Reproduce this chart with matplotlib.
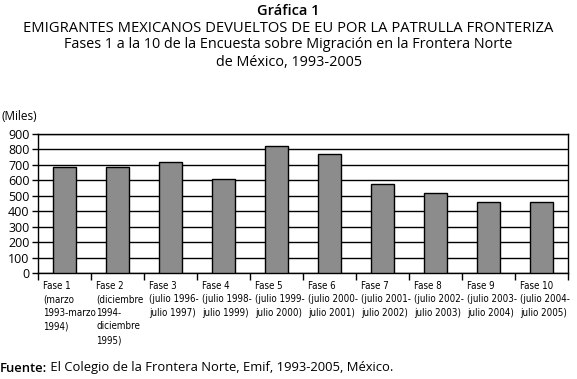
import numpy as np
import matplotlib.pyplot as plt
import matplotlib.transforms as mtransforms

# Data
fases = ['Fase 1\n(marzo\n1993-marzo\n1994)',
         'Fase 2\n(diciembre\n1994-\ndiciembre\n1995)',
         'Fase 3\n(julio 1996-\njulio 1997)',
         'Fase 4\n(julio 1998-\njulio 1999)',
         'Fase 5\n(julio 1999-\njulio 2000)',
         'Fase 6\n(julio 2000-\njulio 2001)',
         'Fase 7\n(julio 2001-\njulio 2002)',
         'Fase 8\n(julio 2002-\njulio 2003)',
         'Fase 9\n(julio 2003-\njulio 2004)',
         'Fase 10\n(julio 2004-\njulio 2005)']
emigrantes = [684, 684, 717, 607, 820, 768, 574, 516, 458, 458]
yticks = list(range(0, 1000, 100))

plt.rcParams['font.family'] = ['Open Sans', 'DejaVu Sans']

fig = plt.figure(figsize=(5.77, 3.79), dpi=100)
ax = fig.add_axes([38 / 577, 1 - 273 / 379, 530 / 577, 139 / 379])

x = np.arange(len(emigrantes))
ax.bar(x, emigrantes, width=0.43, color='#8c8c8c', edgecolor='black', linewidth=1, zorder=3)

ax.set_xlim(-0.5, len(emigrantes) - 0.5)
ax.set_ylim(0, 900)
ax.set_yticks(yticks)
ax.set_yticklabels([str(v) for v in yticks], fontsize=9)
ax.yaxis.grid(True, color='black', linewidth=1)
ax.set_axisbelow(True)
ax.tick_params(axis='y', length=4, width=1, pad=2)

# ticks at category boundaries
ax.set_xticks(np.arange(-0.5, len(emigrantes) + 0.5, 1))
ax.set_xticklabels([])
ax.tick_params(axis='x', length=5, width=1, direction='out')
for s in ax.spines.values():
    s.set_color('black')
    s.set_linewidth(1)

trans = mtransforms.blended_transform_factory(ax.transData, ax.transAxes)
for i, lab in enumerate(fases):
    ax.text(i - 0.4, -0.055, lab, transform=trans, ha='left', va='top',
            fontsize=7.0, family='DejaVu Sans', stretch='condensed',
            linespacing=1.45)

fig.text(0.5, 1 - 11 / 379, 'Gráfica 1', ha='center', va='center', fontsize=10.5, weight='semibold')
fig.text(0.5, 1 - 28 / 379, 'EMIGRANTES MEXICANOS DEVUELTOS DE EU POR LA PATRULLA FRONTERIZA',
         ha='center', va='center', fontsize=10.6)
fig.text(0.5, 1 - 45 / 379, 'Fases 1 a la 10 de la Encuesta sobre Migración en la Frontera Norte',
         ha='center', va='center', fontsize=10.4)
fig.text(0.5, 1 - 62 / 379, 'de México, 1993-2005', ha='center', va='center', fontsize=10.4)
fig.text(2 / 577, 1 - 117 / 379, '(Miles)', ha='left', va='center', fontsize=8.5)
t1 = fig.text(0, 1 - 368 / 379, 'Fuente:', ha='left', va='center', fontsize=9.4, weight='semibold')
ax.annotate(' El Colegio de la Frontera Norte, Emif, 1993-2005, México.', xy=(1, 0.5),
            xycoords=t1, ha='left', va='center', fontsize=9.4, annotation_clip=False)

plt.savefig('out.png', dpi=100)
